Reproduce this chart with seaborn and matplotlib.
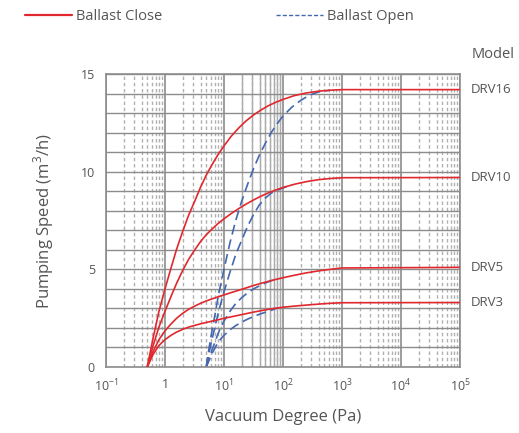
import numpy as np
import pandas as pd
import matplotlib
matplotlib.use("Agg")
import matplotlib.pyplot as plt
import seaborn as sns
from matplotlib.lines import Line2D
from matplotlib.ticker import FixedLocator, LogLocator, NullFormatter

# ── data ───────────────────────────────────────────────────────────────────────
MODELS = ["DRV16", "DRV10", "DRV5", "DRV3"]

# Ballast Close (red, solid) – pressure in Pa
close_p = [0.5, 0.63, 0.79, 1.0, 1.26, 1.58, 2.0, 2.5, 3.2, 4.0, 5.0, 6.3, 7.9, 10,
           13.3, 17.8, 23.7, 31.6, 42, 56, 75, 100, 158, 250, 400, 630, 1000, 100000]
close_drv16 = [0, 1.5, 2.85, 4.0, 5.05, 6.05, 6.95, 7.75, 8.5, 9.2, 9.82, 10.37, 10.87, 11.32,
               11.82, 12.24, 12.6, 12.9, 13.15, 13.37, 13.55, 13.7, 13.9, 14.03, 14.12, 14.17, 14.2, 14.2]
close_drv10 = [0, 1.1, 2.05, 2.85, 3.6, 4.3, 4.95, 5.5, 6.0, 6.42, 6.77, 7.07, 7.34, 7.59,
               7.86, 8.11, 8.34, 8.55, 8.74, 8.91, 9.06, 9.19, 9.36, 9.49, 9.59, 9.65, 9.69, 9.7]
close_drv5 = [0, 0.8, 1.4, 1.85, 2.2, 2.5, 2.75, 2.95, 3.12, 3.26, 3.38, 3.49, 3.59, 3.69,
              3.81, 3.93, 4.05, 4.17, 4.28, 4.38, 4.48, 4.57, 4.7, 4.82, 4.92, 5.0, 5.07, 5.1]
close_drv3 = [0, 0.65, 1.1, 1.4, 1.62, 1.79, 1.93, 2.04, 2.13, 2.21, 2.28, 2.35, 2.42, 2.49,
              2.57, 2.65, 2.73, 2.81, 2.88, 2.95, 3.01, 3.06, 3.12, 3.17, 3.22, 3.26, 3.29, 3.3]

# Ballast Open (blue, dashed) – each curve stops where it joins the red one
open_p = [5.0, 5.6, 6.3, 7.1, 7.9, 8.9, 10, 12.6, 15.8, 20, 25.1, 31.6, 39.8, 50.1,
          63.1, 79.4, 100, 141, 200, 282, 398, 631]
open_drv16 = [0, 1.0, 1.9, 2.75, 3.55, 4.3, 5.0, 6.35, 7.5, 8.5, 9.35, 10.15, 10.85, 11.45,
              12.0, 12.45, 12.85, 13.3, 13.65, 13.92, 14.08, 14.17]
open_drv10 = [0, 0.75, 1.45, 2.1, 2.7, 3.3, 3.85, 4.85, 5.75, 6.5, 7.2, 7.8, 8.3, 8.65,
              8.9, 9.05, 9.17, 9.32]
open_drv5 = [0, 0.45, 0.9, 1.3, 1.7, 2.05, 2.35, 2.85, 3.25, 3.55, 3.8, 4.0, 4.15, 4.3,
             4.42, 4.5]
open_drv3 = [0, 0.35, 0.7, 1.0, 1.25, 1.45, 1.62, 1.9, 2.12, 2.3, 2.45, 2.58, 2.7, 2.8,
             2.9, 3.02]

plateau = [14.2, 9.7, 5.1, 3.3]

x_ticks = [0.1, 1, 10, 100, 1000, 10000, 100000]
x_ticklabels = [r"$\mathregular{10^{-1}}$", "1", r"$\mathregular{10^{1}}$", r"$\mathregular{10^{2}}$",
                r"$\mathregular{10^{3}}$", r"$\mathregular{10^{4}}$", r"$\mathregular{10^{5}}$"]
y_ticks = [0, 5, 10, 15]

# ── long frame for seaborn ─────────────────────────────────────────────────────
rows = []
close_vals = [close_drv16, close_drv10, close_drv5, close_drv3]
open_vals = [open_drv16, open_drv10, open_drv5, open_drv3]
for m, vals in zip(MODELS, close_vals):
    for p, s in zip(close_p, vals):
        rows.append({"pressure": p, "speed": s, "model": m, "mode": "Ballast Close"})
for m, vals in zip(MODELS, open_vals):
    for p, s in zip(open_p, vals):
        rows.append({"pressure": p, "speed": s, "model": m, "mode": "Ballast Open"})
df = pd.DataFrame(rows)

# ── style ──────────────────────────────────────────────────────────────────────
sns.set_style("white")
plt.rcParams["font.family"] = ["Open Sans", "DejaVu Sans"]
plt.rcParams["mathtext.fontset"] = "custom"
plt.rcParams["mathtext.rm"] = "Open Sans"
TXT = "#555555"
RED = "#e0282e"
BLUE = "#4468b0"
GRID = "#8c8c8c"

fig = plt.figure(figsize=(5.19, 4.33), dpi=100)
ax = fig.add_axes([106 / 519, 1 - 367 / 433, (460 - 106) / 519, (367 - 74) / 433])

ax.set_xscale("log")
ax.set_xlim(0.1, 100000)
ax.set_ylim(0, 15)

# grid: solid rows every unit, solid decades, dashed minor verticals (solid in 10–100)
ax.xaxis.set_major_locator(FixedLocator(x_ticks))
ax.xaxis.set_minor_locator(LogLocator(base=10, subs=np.arange(2, 10)))
ax.xaxis.set_minor_formatter(NullFormatter())
ax.yaxis.set_major_locator(FixedLocator(y_ticks))
ax.yaxis.set_minor_locator(FixedLocator([v for v in range(16) if v % 5]))
ax.grid(True, which="major", axis="y", color=GRID, lw=1.0)
ax.grid(True, which="minor", axis="y", color=GRID, lw=1.0)
ax.grid(True, which="major", axis="x", color=GRID, lw=1.2)
ax.grid(True, which="minor", axis="x", color="#b0b0b0", lw=1.0, ls=(0, (2.5, 2)))
for v in range(20, 100, 10):
    ax.axvline(v, color="#a8a8a8", lw=1.0, zorder=0.5)
ax.set_axisbelow(True)

sns.lineplot(data=df, x="pressure", y="speed", hue="mode", style="mode", units="model",
             estimator=None, sort=False, palette={"Ballast Close": RED, "Ballast Open": BLUE},
             dashes={"Ballast Close": "", "Ballast Open": (6, 3)}, legend=False, ax=ax, lw=1.2)
for line in ax.get_lines():
    if line.get_color() == RED:
        line.set_zorder(3)

ax.set_xticks(x_ticks)
ax.set_xticklabels(x_ticklabels)
ax.set_yticks(y_ticks)
ax.set_yticklabels([str(v) for v in y_ticks])
ax.tick_params(axis="both", which="both", length=0, labelsize=9, colors=TXT, pad=8)

for sp in ax.spines.values():
    sp.set_color(GRID)
    sp.set_linewidth(1.2)

ax.set_xlabel("Vacuum Degree (Pa)", fontsize=12, color=TXT, labelpad=10)
ax.set_ylabel("Pumping Speed (m$^3$/h)", fontsize=12, color=TXT, labelpad=18)

# model labels on the right
for m, val in zip(MODELS, plateau):
    ax.text(1.5e5, val, m, fontsize=9.5, color=TXT, va="center", ha="left", clip_on=False)
fig.text(472 / 519, 1 - 55 / 433, "Model", fontsize=10.5, color=TXT, va="center", ha="left")

# legend across the top
handles = [Line2D([], [], color=RED, lw=1.6),
           Line2D([], [], color=BLUE, lw=1.0, dashes=(3, 1.5))]
fig.legend(handles, ["Ballast Close", "Ballast Open"], loc="center left",
           bbox_to_anchor=(12 / 519, 1 - 17 / 433), ncol=2, frameon=False,
           fontsize=10.5, handlelength=3.2, handletextpad=0.3, columnspacing=7.8,
           labelcolor=TXT)

fig.savefig("out.png", dpi=100)
